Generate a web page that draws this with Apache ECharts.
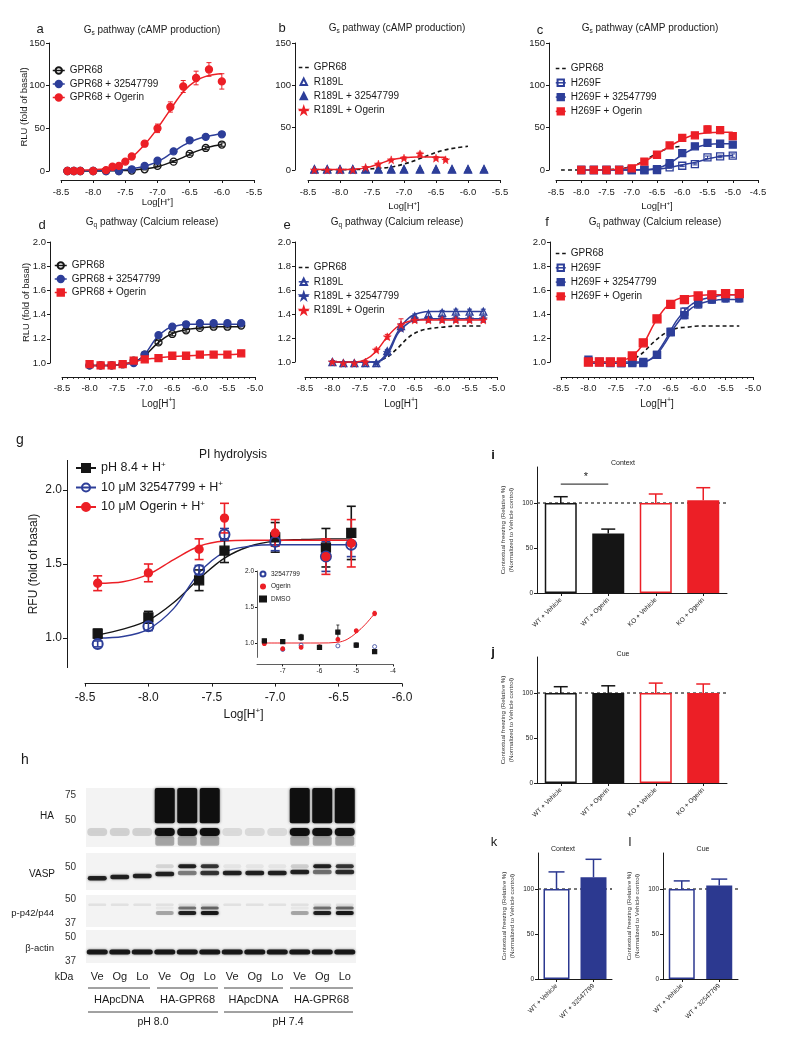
<!DOCTYPE html>
<html>
<head>
<meta charset="utf-8">
<title>GPR68 figure</title>
<script src="https://cdn.jsdelivr.net/npm/echarts@6.0.0/dist/echarts.min.js"></script>
<style>
html,body{margin:0;padding:0;background:#ffffff;}
#chart{width:800px;height:1046px;}
</style>
</head>
<body>
<div id="chart"></div>
<script>
// ================= DATA =================
// ---- a: Gs pathway (cAMP), GPR68
const aX = [-8.4,-8.3,-8.2,-8.0,-7.8,-7.6,-7.4,-7.2,-7.0,-6.75,-6.5,-6.25,-6.0];
const aGPR68 = [0,0,0,0,0,0,0.5,2,6,11,20,27,31];
const aGPR68Err = [0.5,0.5,0.5,0.5,0.5,0.5,0.5,0.8,1,1,1.5,2,2];
const aG325 = [0,0,0,0,0,0,2,6,12,23,36,40,43];
const aG325Err = [0.5,0.5,0.5,0.5,0.5,0.5,0.8,1,1.5,2,2,2,2];
const aOgX = [-8.4,-8.3,-8.2,-8.0,-7.8,-7.7,-7.6,-7.5,-7.4,-7.2,-7.0,-6.8,-6.6,-6.4,-6.2,-6.0];
const aOg = [0,0,0,0,1,5,6,11,17,32,50,75,99,109,119,105];
const aOgErr = [0.5,0.5,0.5,0.5,0.5,1,1,1.5,2,3,5,6,7,8,8,9];
const aFitX = [-8.4,-8.2,-8.0,-7.8,-7.6,-7.4,-7.2,-7.0,-6.8,-6.6,-6.4,-6.2,-6.0];
const aGPR68Fit = [0,0,0,0.2,0.5,1,2.5,5,10,16,23,28,31];
const aG325Fit = [0,0,0.3,0.6,1,2.5,5.5,11,20,30,37,41,44];
const aOgFit = [1,1,1.5,3,7,16,31,50,72,93,106,112,114];

// ---- b: Gs pathway, R189L
const bX = [-8.4,-8.2,-8.0,-7.8,-7.6,-7.4,-7.2,-7.0,-6.75,-6.5,-6.25,-6.0,-5.75];
const bR189L = [0.5,0.5,0.5,0.5,0.5,0.5,0.5,0.5,0.5,0.5,0.5,0.5,0.5];
const bR325 = [1,1,1,1,1,1,1,1,1,1,1,1,1];
const bOgX = [-8.4,-8.2,-8.0,-7.8,-7.6,-7.4,-7.2,-7.0,-6.75,-6.5,-6.35];
const bOg = [0,0,0,0,3,7,12,14,19,14,12];
const bOgErr = [0.5,0.5,0.5,0.5,1,1,1,1.5,2,2,1.5];
const bOgFitX = [-8.4,-8.2,-8.0,-7.8,-7.6,-7.4,-7.2,-7.0,-6.8,-6.6,-6.35];
const bOgFit = [0.5,0.5,0.6,1,2.5,7,12,14.5,15.5,15.5,15];
const bGPRX = [-8.4,-8.0,-7.6,-7.4,-7.2,-7.0,-6.8,-6.6,-6.4,-6.2,-6.0];
const bGPRFit = [0,0.3,1,2,3.5,7,12,18,23,26,28];

// ---- c: Gs pathway, H269F
const cX = [-8.0,-7.75,-7.5,-7.25,-7.0,-6.75,-6.5,-6.25,-6.0,-5.75,-5.5,-5.25,-5.0];
const cH269F = [0,0,0,0,0,0,0,3,5,7,15,16,17];
const cH269FErr = [0.5,0.5,0.5,0.5,0.5,0.5,0.5,1,1,1,1.5,1.5,2];
const cH325 = [0,0,0,0,0,0,1,8,20,28,32,31,30];
const cH325Err = [0.5,0.5,0.5,0.5,0.5,0.5,0.5,1,1.5,2,2,2,2];
const cOg = [0,0,0,0,2,10,18,29,38,41,48,47,40];
const cOgErr = [0.5,0.5,0.5,0.5,1,2,2,3,3,3,4,4,4];
const cOgFit = [0,0,0.3,1,4,10,19,28,36,42,44,44.5,44.5];
const cH325Fit = [0,0,0,0,0,0.5,2,8,18,26,30,31,31];
const cH269FFit = [0,0,0,0,0,0,1,3,6,9,13,16,17];
const cGPRX = [-8.4,-8.0,-7.5,-7.25,-7.0,-6.75,-6.5,-6.25,-6.0];
const cGPRFit = [0,0,0.5,1.5,4,11,20,26,28];

// ---- d: Gq pathway (Calcium), GPR68
const dX = [-8.0,-7.8,-7.6,-7.4,-7.2,-7.0,-6.75,-6.5,-6.25,-6.0,-5.75,-5.5,-5.25];
const dGPR68 = [0.98,0.98,0.98,0.99,1.02,1.07,1.17,1.24,1.27,1.29,1.30,1.30,1.31];
const dG325 = [0.98,0.98,0.98,0.99,1.00,1.07,1.23,1.30,1.32,1.33,1.33,1.33,1.33];
const dOg = [0.99,0.98,0.98,0.99,1.02,1.03,1.04,1.06,1.06,1.07,1.07,1.07,1.08];
const dErr = [0.01,0.01,0.01,0.01,0.01,0.01,0.015,0.015,0.015,0.01,0.01,0.01,0.01];
const dFitX = [-8.0,-7.6,-7.4,-7.2,-7.0,-6.8,-6.6,-6.4,-6.2,-6.0,-5.75,-5.5,-5.25];
const dGPR68Fit = [0.98,0.98,0.99,1.01,1.06,1.15,1.22,1.26,1.28,1.29,1.30,1.30,1.30];
const dG325Fit = [0.98,0.98,0.99,1.00,1.07,1.20,1.28,1.31,1.32,1.32,1.32,1.32,1.32];
const dOgFit = [0.98,0.98,0.99,1.01,1.03,1.04,1.05,1.055,1.06,1.065,1.07,1.07,1.075];

// ---- e: Gq pathway, R189L
const eX = [-8.0,-7.8,-7.6,-7.4,-7.2,-7.0,-6.75,-6.5,-6.25,-6.0,-5.75,-5.5,-5.25];
const eR189L = [1.0,0.99,0.99,0.99,0.99,1.09,1.30,1.38,1.40,1.41,1.42,1.42,1.42];
const eR325 = [1.0,0.99,0.99,0.99,0.99,1.08,1.28,1.36,1.36,1.36,1.36,1.36,1.36];
const eOg = [1.0,0.99,0.99,1.0,1.10,1.21,1.31,1.35,1.35,1.35,1.35,1.35,1.35];
const eOgErr = [0.01,0.01,0.01,0.01,0.015,0.02,0.05,0.02,0.02,0.02,0.02,0.02,0.02];
const eErr = [0.01,0.01,0.01,0.01,0.01,0.015,0.02,0.02,0.02,0.02,0.02,0.02,0.02];
const eFitX = [-8.0,-7.6,-7.4,-7.2,-7.0,-6.8,-6.6,-6.4,-6.2,-6.0,-5.75,-5.5,-5.25];
const eR189LFit = [1.0,1.0,1.0,1.0,1.08,1.26,1.37,1.41,1.42,1.42,1.42,1.42,1.42];
const eR325Fit = [1.0,1.0,1.0,1.0,1.06,1.24,1.33,1.355,1.36,1.36,1.36,1.36,1.36];
const eOgFit = [1.0,1.0,1.02,1.09,1.21,1.30,1.34,1.35,1.35,1.35,1.35,1.35,1.35];
const eGPRX = [-7.1,-7.0,-6.8,-6.6,-6.4,-6.2,-6.0,-5.75,-5.5,-5.25];
const eGPRFit = [1.02,1.04,1.12,1.21,1.26,1.28,1.29,1.30,1.30,1.30];

// ---- f: Gq pathway, H269F
const fX = [-8.0,-7.8,-7.6,-7.4,-7.2,-7.0,-6.75,-6.5,-6.25,-6.0,-5.75,-5.5,-5.25];
const fOg = [1.0,1.0,1.0,1.0,1.05,1.16,1.36,1.48,1.52,1.55,1.56,1.57,1.57];
const fH325 = [1.02,1.0,0.99,0.99,0.99,0.99,1.06,1.25,1.39,1.49,1.52,1.53,1.53];
const fH269F = [1.0,1.0,1.0,0.99,1.0,1.0,1.06,1.25,1.42,1.48,1.55,1.56,1.57];
const fErr = [0.02,0.015,0.015,0.015,0.015,0.02,0.02,0.03,0.03,0.03,0.03,0.03,0.03];
const fFitX = [-8.0,-7.6,-7.4,-7.2,-7.0,-6.8,-6.6,-6.4,-6.2,-6.0,-5.75,-5.5,-5.25];
const fOgFit = [1.0,1.0,1.01,1.05,1.15,1.32,1.45,1.52,1.545,1.555,1.56,1.56,1.56];
const fH325Fit = [0.99,0.99,0.99,0.99,1.0,1.04,1.16,1.31,1.42,1.48,1.51,1.52,1.52];
const fH269FFit = [1.0,1.0,1.0,1.0,1.0,1.05,1.18,1.34,1.45,1.51,1.54,1.56,1.56];
const fGPRX = [-7.15,-7.0,-6.8,-6.6,-6.4,-6.2,-6.0,-5.75,-5.5,-5.25];
const fGPRFit = [1.03,1.08,1.17,1.24,1.28,1.29,1.30,1.30,1.30,1.30];

// ---- g: PI hydrolysis
const gX = [-8.4,-8.0,-7.6,-7.4,-7.0,-6.6,-6.4];
const gPH = [1.03,1.14,1.39,1.59,1.68,1.61,1.71];
const gPHErr = [0.03,0.04,0.07,0.08,0.1,0.13,0.18];
const g325 = [0.96,1.08,1.46,1.70,1.65,1.55,1.63];
const g325Err = [0.02,0.03,0.03,0.04,0.06,0.1,0.08];
const gOg = [1.37,1.44,1.60,1.81,1.71,1.55,1.64];
const gOgErr = [0.05,0.06,0.07,0.1,0.09,0.12,0.16];
const gFitX = [-8.4,-8.2,-8.0,-7.8,-7.6,-7.4,-7.2,-7.0,-6.8,-6.6,-6.4];
const gPHFit = [1.02,1.06,1.12,1.24,1.40,1.54,1.62,1.655,1.665,1.67,1.67];
const g325Fit = [1.0,1.01,1.06,1.20,1.44,1.58,1.62,1.63,1.63,1.63,1.63];
const gOgFit = [1.37,1.38,1.43,1.53,1.62,1.655,1.66,1.66,1.66,1.66,1.66];
// inset
const insX = [-7.5,-7.0,-6.5,-6.0,-5.5,-5.0,-4.5];
const insDMSO = [1.03,1.02,1.08,0.94,1.15,0.97,0.88];
const insDMSOErr = [0.02,0.02,0.04,0.01,0.1,0.03,0.01];
const ins325 = [1.02,0.91,0.97,0.94,0.96,0.97,0.95];
const insOg = [0.99,0.92,0.94,0.95,1.05,1.17,1.41];
const insOgErr = [0.01,0.02,0.02,0.01,0.02,0.01,0.03];
const insOgFitX = [-7.5,-7.0,-6.5,-6.0,-5.5,-5.25,-5.0,-4.75,-4.5];
const insOgFit = [1.0,1.0,1.0,1.0,1.01,1.05,1.14,1.26,1.41];

// ---- h: western blot (band apparent kDa and relative intensity per lane)
const laneLabels = ['Ve','Og','Lo','Ve','Og','Lo','Ve','Og','Lo','Ve','Og','Lo'];
const groupLabels = ['HApcDNA','HA-GPR68','HApcDNA','HA-GPR68'];
const phLabels = ['pH 8.0','pH 7.4'];
const haBlobKDa = [84, 47.6];
const haBlob = [0,0,0,0.95,0.95,0.95,0,0,0,0.95,0.95,0.95];
const haBandKDa = 41.2;
const haBand = [0.14,0.14,0.14,0.95,0.95,0.95,0.1,0.1,0.1,0.95,0.95,0.95];
const haSmearKDa = [38.6, 33];
const haSmear = [0,0,0,0.3,0.3,0.3,0,0,0,0.3,0.3,0.3];
const vaspLowKDa = [41.7,42.4,43.1,44.6,45.3,45.3,45.3,45.3,45.3,46.0,46.0,46.0];
const vaspLow = [0.85,0.85,0.85,0.85,0.45,0.75,0.85,0.85,0.85,0.85,0.5,0.8];
const vaspUpKDa = 50.5;
const vaspUp = [0,0,0,0.12,0.85,0.75,0.06,0.06,0.06,0.15,0.85,0.75];
const erkLowKDa = 41.9;
const erkLow = [0,0,0,0.3,0.85,0.9,0,0,0,0.3,0.85,0.9];
const erkUpKDa = 44.7;
const erkUp = [0,0,0,0.05,0.5,0.55,0,0,0,0.05,0.5,0.55];
const erkFaintKDa = 46.5;
const erkFaint = [0.08,0.08,0.08,0.08,0.08,0.08,0.08,0.08,0.08,0.08,0.08,0.08];
const actinKDa = 41.5;
const actin = [0.9,0.9,0.9,0.9,0.9,0.9,0.9,0.9,0.9,0.9,0.9,0.9];

// ---- i-l: fear conditioning
const catsIJ = ['WT + Vehicle','WT + Ogerin','KO + Vehicle','KO + Ogerin'];
const ctxVal = [100,66,100,103];
const ctxErr = [7,5,10,14];
const cueVal = [100,100,100,100];
const cueErr = [7,8,11,10];
const catsKL = ['WT + Vehicle','WT + 32547799'];
const kVal = [100,113];
const kErr = [19,20];
const lVal = [100,104];
const lErr = [9,7];
const sigY = 121;

// ================= BUILD =================
const F = '"Liberation Sans", Arial, Helvetica, sans-serif';
const RED = '#ec1f26', BLUE = '#2d3e99', BLK = '#151515', NAVY = '#2c3990', TXT = '#1a1a1a';
const NONE = 'rgba(255,255,255,0)';
const STAR = 'path://M50,0L61.8,35.3L99,35.3L68.9,57.1L80.4,92.7L50,70.6L19.6,92.7L31.1,57.1L1,35.3L38.2,35.3Z';
const DASH_ICON = 'path://M0,0h0.01v0.01h-0.01zM0,3.2h3.6v1.6h-3.6zM6.4,3.2h3.6v1.6h-3.6zM9.99,7.99h0.01v0.01h-0.01z';
const grids = [], xAxes = [], yAxes = [], series = [], legends = [], gfx = [];
const LOGH = '{a|Log[H}{b|+}{a|]}';
function richLog(fs){
  return {a:{fontSize:fs, fontFamily:F, color:TXT, lineHeight:fs+4},
          b:{fontSize:Math.round(fs*0.65), fontFamily:F, color:TXT, lineHeight:Math.round(fs*0.65)+1, verticalAlign:'top'}};
}
const AX = {color:TXT, width:1};

function curvePanel(p){
  const gi = grids.length;
  grids.push({left:p.left, top:p.top, width:p.width, height:p.height, outerBoundsMode:'none', containLabel:false});
  const xi = xAxes.length, yi = yAxes.length;
  const xa = {gridIndex:gi, type:'value', min:p.xmin, max:p.xmax, offset:p.xOff,
    axisLine:{show:true, onZero:false, lineStyle:AX},
    axisTick:{show:true, length:3, lineStyle:AX},
    minorTick:{show:!!p.minor, splitNumber:5, length:2, lineStyle:{color:TXT, width:0.8}},
    axisLabel:{fontSize:p.fs, fontFamily:F, color:TXT, margin:p.xm||5, formatter:v=>v.toFixed(1)},
    splitLine:{show:false}, minorSplitLine:{show:false}};
  if (p.xCustom) { xa.axisLabel.customValues = p.xCustom; xa.axisTick.customValues = p.xCustom; }
  else xa.interval = p.xint || 0.5;
  if (p.xName !== false) {
    xa.name = LOGH; xa.nameLocation = 'middle'; xa.nameGap = p.nameGap; xa.nameMoveOverlap = false;
    xa.nameTextStyle = {rich: richLog(p.nfs)};
  }
  xAxes.push(xa);
  const ya = {gridIndex:gi, type:'value', min:p.ymin, max:p.ymax, offset:p.yOff,
    axisLine:{show:true, onZero:false, lineStyle:AX},
    axisTick:{show:true, length:p.ytl||3, lineStyle:AX},
    axisLabel:{fontSize:p.fs, fontFamily:F, color:TXT, margin:p.ym||4, formatter:p.yfmt||(v=>String(v))},
    splitLine:{show:false}};
  if (p.yCustom) { ya.axisLabel.customValues = p.yCustom; ya.axisTick.customValues = p.yCustom; }
  else ya.interval = p.yint;
  if (p.yName) {
    ya.name = p.yName; ya.nameLocation = 'middle'; ya.nameGap = p.yNameGap; ya.nameMoveOverlap = false;
    ya.nameTextStyle = {fontSize:p.yNameFs||p.fs, fontFamily:F, color:TXT};
  }
  yAxes.push(ya);
  return {xi, yi};
}

function errBar(color, cap, w){
  return function(params, api){
    const x = api.value(0), y = api.value(1), e = api.value(2);
    const p1 = api.coord([x, y - e]), p2 = api.coord([x, y + e]);
    const st = {stroke:color, lineWidth:w};
    return {type:'group', children:[
      {type:'line', shape:{x1:p1[0], y1:p1[1], x2:p2[0], y2:p2[1]}, style:st},
      {type:'line', shape:{x1:p1[0]-cap, y1:p1[1], x2:p1[0]+cap, y2:p1[1]}, style:st},
      {type:'line', shape:{x1:p2[0]-cap, y1:p2[1], x2:p2[0]+cap, y2:p2[1]}, style:st}
    ]};
  };
}

function addPts(ax, name, xs, ys, errs, o){
  if (errs) series.push({type:'custom', xAxisIndex:ax.xi, yAxisIndex:ax.yi, silent:true, z:3, clip:false,
    data: xs.map((x,i)=>[x, ys[i], errs[i]]), renderItem: errBar(o.color, o.cap||2.5, o.ew||1)});
  series.push({type:o.scatter?'scatter':'line', name:name, xAxisIndex:ax.xi, yAxisIndex:ax.yi, z:4, clip:false, silent:true,
    data: xs.map((x,i)=>[x, ys[i]]), symbol:o.symbol, symbolSize:o.size, showSymbol:true, showAllSymbol:true,
    lineStyle:{width:0, opacity:0, color:o.color},
    itemStyle:{color:o.fill, borderColor:o.color, borderWidth:o.bw||1.3, opacity:1},
    emphasis:{disabled:true}});
}
function addCurve(ax, xs, ys, color, o){
  o = o || {};
  series.push({type:'line', name:o.name, xAxisIndex:ax.xi, yAxisIndex:ax.yi, z:2, clip:false, silent:true,
    data: xs.map((x,i)=>[x, ys[i]]), symbol:'none', smooth:0.35,
    lineStyle:{color:color, width:o.w||1.5, type:o.dash?[4,3]:'solid'}, itemStyle:{color:color},
    emphasis:{disabled:true}});
}
function addLegend(data, left, top, o){
  legends.push({show:true, orient:'vertical', left:left, top:top, data:data, padding:0,
    itemWidth:o.iw, itemHeight:o.ih, itemGap:o.gap, selectedMode:false,
    textStyle:{fontSize:o.fs, fontFamily:F, color:TXT, lineHeight:o.lh, rich:o.rich},
    formatter: o.fmt || (n=>n.split('::')[1]),
    lineStyle:{width:o.lw||1.5, opacity:1}, itemStyle:{opacity:1}});
}
function text(x, y, s, fs, o){
  o = o || {};
  gfx.push({type:'text', x:x, y:y, silent:true, z:10,
    style:{text:s, fontSize:fs, fontFamily:F, fill:o.fill||TXT, fontWeight:o.bold?'bold':'normal',
      align:o.align||'center', textAlign:o.align||'center', verticalAlign:'middle', textVerticalAlign:'middle', rich:o.rich}});
}
function hline(x1, x2, y){
  gfx.push({type:'line', silent:true, shape:{x1:x1, y1:y, x2:x2, y2:y}, style:{stroke:'#444', lineWidth:1}});
}
const LEG = {iw:12, ih:8, gap:3.5, fs:10, lh:9};
const LEGD = {iw:10, ih:8, gap:4.3, fs:10, lh:9};
const noLine = {opacity:0, width:0};

// ---- Titles helpers
function gTitle(x, y, sub, rest){
  text(x, y, '{m|G}{s|' + sub + '}{m| ' + rest + '}', 10, {rich:{
    m:{fontSize:10, fontFamily:F, fill:TXT, color:TXT, lineHeight:13},
    s:{fontSize:6.5, fontFamily:F, fill:TXT, color:TXT, lineHeight:8, verticalAlign:'bottom'}}});
}

// ================= PANEL a =================
let A = curvePanel({left:61, top:43, width:193, height:128, xmin:-8.5, xmax:-5.5, xint:0.5, ymin:0, ymax:150, yint:50,
  yOff:12, xOff:9, fs:9.5, nfs:9.5, nameGap:16, yName:'RLU (fold of basal)', yNameGap:20, yNameFs:9.5, xm:7});
addCurve(A, aFitX, aGPR68Fit, BLK);
addCurve(A, aFitX, aG325Fit, BLUE);
addCurve(A, aFitX, aOgFit, RED);
addPts(A, 'a::GPR68', aX, aGPR68, aGPR68Err, {symbol:'circle', size:7, color:BLK, fill:NONE});
addPts(A, 'a::GPR68 + 32547799', aX, aG325, aG325Err, {symbol:'circle', size:7, color:BLUE, fill:BLUE});
addPts(A, 'a::GPR68 + Ogerin', aOgX, aOg, aOgErr, {symbol:'circle', size:7, color:RED, fill:RED});
addLegend(['a::GPR68','a::GPR68 + 32547799','a::GPR68 + Ogerin'], 52, 65.5, LEG);
text(40, 29, 'a', 13);
gTitle(152, 30, 's', 'pathway (cAMP production)');

// ================= PANEL b =================
let B = curvePanel({left:308, top:43, width:192, height:127, xmin:-8.5, xmax:-5.5, xint:0.5, ymin:0, ymax:150, yint:50,
  yOff:13, xOff:10, fs:9.5, nfs:9.5, nameGap:20, xm:7});
addCurve(B, bGPRX, bGPRFit, BLK, {name:'b::GPR68', dash:true, w:1.6});
addCurve(B, bOgFitX, bOgFit, RED);
addPts(B, 'b::R189L', bX, bR189L, null, {symbol:'triangle', size:7, color:BLUE, fill:NONE});
addPts(B, 'b::R189L + 32547799', bX, bR325, null, {symbol:'triangle', size:7, color:BLUE, fill:BLUE});
addPts(B, 'b::R189L + Ogerin', bOgX, bOg, bOgErr, {symbol:STAR, size:8, color:RED, fill:RED, bw:0.5});
addLegend([{name:'b::GPR68', icon:DASH_ICON},{name:'b::R189L', lineStyle:noLine},{name:'b::R189L + 32547799', lineStyle:noLine},'b::R189L + Ogerin'], 298, 62.5, LEGD);
text(282, 28, 'b', 13);
gTitle(397, 28, 's', 'pathway (cAMP production)');

// ================= PANEL c =================
let C = curvePanel({left:556, top:43, width:202, height:127, xmin:-8.5, xmax:-4.5, xint:0.5, ymin:0, ymax:150, yint:50,
  yOff:7, xOff:10, fs:9.5, nfs:9.5, nameGap:20, xm:7});
addCurve(C, cGPRX, cGPRFit, BLK, {name:'c::GPR68', dash:true, w:1.6});
addCurve(C, cX, cH269FFit, BLUE);
addCurve(C, cX, cH325Fit, BLUE);
addCurve(C, cX, cOgFit, RED);
addPts(C, 'c::H269F', cX, cH269F, cH269FErr, {symbol:'rect', size:7, color:BLUE, fill:NONE});
addPts(C, 'c::H269F + 32547799', cX, cH325, cH325Err, {symbol:'rect', size:7, color:BLUE, fill:BLUE});
addPts(C, 'c::H269F + Ogerin', cX, cOg, cOgErr, {symbol:'rect', size:7, color:RED, fill:RED});
addLegend([{name:'c::GPR68', icon:DASH_ICON},'c::H269F','c::H269F + 32547799','c::H269F + Ogerin'], 555, 63.5, LEGD);
text(540, 30, 'c', 13);
gTitle(650, 28, 's', 'pathway (cAMP production)');

// ================= PANEL d =================
const f1 = v=>v.toFixed(1);
let D = curvePanel({left:62, top:242, width:193, height:121, xmin:-8.5, xmax:-5.0, xint:0.5, ymin:1.0, ymax:2.0, yint:0.2,
  yOff:12, xOff:14, fs:9.5, nfs:10, nameGap:20, xm:6, minor:true, yfmt:f1, yName:'RLU (fold of basal)', yNameGap:19, yNameFs:9.5});
addCurve(D, dFitX, dGPR68Fit, BLK);
addCurve(D, dFitX, dG325Fit, BLUE);
addCurve(D, dFitX, dOgFit, RED);
addPts(D, 'd::GPR68', dX, dGPR68, dErr, {symbol:'circle', size:7, color:BLK, fill:NONE});
addPts(D, 'd::GPR68 + 32547799', dX, dG325, dErr, {symbol:'circle', size:7, color:BLUE, fill:BLUE});
addPts(D, 'd::GPR68 + Ogerin', dX, dOg, dErr, {symbol:'rect', size:7, color:RED, fill:RED});
addLegend(['d::GPR68','d::GPR68 + 32547799','d::GPR68 + Ogerin'], 54, 260.5, LEG);
text(42, 225, 'd', 13);
gTitle(152, 222, 'q', 'pathway (Calcium release)');

// ================= PANEL e =================
let E = curvePanel({left:305, top:242, width:192, height:120, xmin:-8.5, xmax:-5.0, xint:0.5, ymin:1.0, ymax:2.0, yint:0.2,
  yOff:10, xOff:15, fs:9.5, nfs:10, nameGap:20, xm:6, minor:true, yfmt:f1});
addCurve(E, eGPRX, eGPRFit, BLK, {name:'e::GPR68', dash:true, w:1.6});
addCurve(E, eFitX, eR189LFit, BLUE);
addCurve(E, eFitX, eR325Fit, BLUE);
addCurve(E, eFitX, eOgFit, RED);
addPts(E, 'e::R189L', eX, eR189L, eErr, {symbol:'triangle', size:7, color:BLUE, fill:NONE});
addPts(E, 'e::R189L + 32547799', eX, eR325, eErr, {symbol:STAR, size:8, color:BLUE, fill:BLUE, bw:0.5});
addPts(E, 'e::R189L + Ogerin', eX, eOg, eOgErr, {symbol:STAR, size:8, color:RED, fill:RED, bw:0.5});
addLegend([{name:'e::GPR68', icon:DASH_ICON},'e::R189L','e::R189L + 32547799','e::R189L + Ogerin'], 298, 262.5, LEGD);
text(287, 225, 'e', 13);
gTitle(397, 222, 'q', 'pathway (Calcium release)');

// ================= PANEL f =================
let Fp = curvePanel({left:561, top:242, width:192, height:120, xmin:-8.5, xmax:-5.0, xint:0.5, ymin:1.0, ymax:2.0, yint:0.2,
  yOff:11, xOff:15, fs:9.5, nfs:10, nameGap:20, xm:6, minor:true, yfmt:f1});
addCurve(Fp, fGPRX, fGPRFit, BLK, {name:'f::GPR68', dash:true, w:1.6});
addCurve(Fp, fFitX, fH269FFit, BLUE);
addCurve(Fp, fFitX, fH325Fit, BLUE);
addCurve(Fp, fFitX, fOgFit, RED);
addPts(Fp, 'f::H269F', fX, fH269F, fErr, {symbol:'rect', size:7, color:BLUE, fill:NONE});
addPts(Fp, 'f::H269F + 32547799', fX, fH325, fErr, {symbol:'rect', size:7, color:BLUE, fill:BLUE});
addPts(Fp, 'f::H269F + Ogerin', fX, fOg, fErr, {symbol:'rect', size:8, color:RED, fill:RED});
addLegend([{name:'f::GPR68', icon:DASH_ICON},'f::H269F','f::H269F + 32547799','f::H269F + Ogerin'], 555, 248.5, LEGD);
text(547, 222, 'f', 13);
gTitle(655, 222, 'q', 'pathway (Calcium release)');

// ================= PANEL g =================
let G = curvePanel({left:85, top:460.4, width:317, height:207.2, xmin:-8.5, xmax:-6.0, xint:0.5, ymin:0.8, ymax:2.2,
  yCustom:[1.0,1.5,2.0], yOff:18, xOff:16, fs:12, nfs:12, nameGap:23, xm:8, ym:5, ytl:4, yfmt:f1,
  yName:'RFU (fold of basal)', yNameGap:27, yNameFs:12});
addCurve(G, gFitX, gPHFit, BLK, {w:1.4});
addCurve(G, gFitX, g325Fit, BLUE, {w:1.4});
addCurve(G, gFitX, gOgFit, RED, {w:1.4});
addPts(G, 'g::ph', gX, gPH, gPHErr, {symbol:'rect', size:9, color:BLK, fill:BLK, cap:4.5, ew:1.6});
addPts(G, 'g::325', gX, g325, g325Err, {symbol:'circle', size:10, color:BLUE, fill:NONE, bw:2, cap:4.5, ew:1.6});
addPts(G, 'g::og', gX, gOg, gOgErr, {symbol:'circle', size:8, color:RED, fill:RED, cap:4.5, ew:1.6});
const gNames = {'g::ph':'{a|pH 8.4 + H}{b|+}', 'g::325':'{a|10 \u03bcM 32547799 + H}{b|+}', 'g::og':'{a|10 \u03bcM Ogerin + H}{b|+}'};
addLegend(['g::ph','g::325','g::og'], 75, 460.5, {iw:20, ih:10, gap:4.5, fs:12.5, lh:15, lw:2,
  fmt:n=>gNames[n], rich:{a:{fontSize:12.5, fontFamily:F, color:TXT, lineHeight:15}, b:{fontSize:8, fontFamily:F, color:TXT, lineHeight:9, verticalAlign:'top'}}});
text(20, 440, 'g', 14);
text(233, 455, 'PI hydrolysis', 12);
// inset
let GI = curvePanel({left:257, top:571, width:136, height:86.4, xmin:-7.7, xmax:-4.0, xCustom:[-7,-6,-5,-4],
  ymin:0.8, ymax:2.0, yCustom:[1.0,1.5,2.0], yOff:0, xOff:7, fs:6.5, xm:3, ym:3, yfmt:f1, xName:false});
xAxes[GI.xi].axisLabel.formatter = v=>String(v);
xAxes[GI.xi].axisTick.length = 2; yAxes[GI.yi].axisTick.length = 2;
xAxes[GI.xi].axisLine.lineStyle = {color:TXT, width:0.7}; yAxes[GI.yi].axisLine.lineStyle = {color:TXT, width:0.7};
addCurve(GI, insOgFitX, insOgFit, RED, {w:1});
addPts(GI, 'gi::32547799', insX, ins325, null, {symbol:'circle', size:4, color:BLUE, fill:NONE, bw:0.8, scatter:true});
addPts(GI, 'gi::Ogerin', insX, insOg, insOgErr, {symbol:'circle', size:3.5, color:RED, fill:RED, cap:1.5, ew:0.8});
addPts(GI, 'gi::DMSO', insX, insDMSO, insDMSOErr, {symbol:'rect', size:4, color:BLK, fill:BLK, cap:1.5, ew:0.8, scatter:true});
addLegend(['gi::32547799','gi::Ogerin','gi::DMSO'], 259, 570.5, {iw:6, ih:5, gap:5.5, fs:6.5, lh:6, lw:1});

// ================= PANEL h (western blot) =================
function bandRender(h, w){
  return function(params, api){
    const a = api.value(2);
    if (!a) return null;
    const c = api.coord([api.value(0), api.value(1)]);
    return {type:'rect', shape:{x:c[0]-w/2, y:c[1]-h/2, width:w, height:h, r:h/2},
      style:{fill:'rgba(12,12,12,' + a + ')', shadowBlur:2.5, shadowColor:'rgba(0,0,0,' + (a*0.7) + ')'}};
  };
}
function blobRender(w){
  return function(params, api){
    const a = api.value(3);
    if (!a) return null;
    const t = api.coord([api.value(0), api.value(1)]), b = api.coord([api.value(0), api.value(2)]);
    return {type:'rect', shape:{x:t[0]-w/2, y:t[1], width:w, height:Math.max(1, b[1]-t[1]), r:2},
      style:{fill:'rgba(10,10,10,' + a + ')', shadowBlur:3, shadowColor:'rgba(0,0,0,' + (a*0.6) + ')'}};
  };
}
function blotStrip(top, height, kMin, kMax, marks, showLanes){
  const gi = grids.length;
  grids.push({left:86, top:top, width:270, height:height, outerBoundsMode:'none', show:true, backgroundColor:'#f3f3f3', borderWidth:0});
  const xi = xAxes.length, yi = yAxes.length;
  xAxes.push({gridIndex:gi, type:'category', data:laneLabels, axisLine:{show:false}, axisTick:{show:false},
    axisLabel:{show:showLanes, fontSize:11, fontFamily:F, color:TXT, margin:8, interval:0}, splitLine:{show:false}});
  yAxes.push({gridIndex:gi, type:'log', min:kMin, max:kMax, axisLine:{show:false}, axisTick:{show:false},
    axisLabel:{fontSize:10, fontFamily:F, color:'#333', margin:10, customValues:marks}, splitLine:{show:false}, minorSplitLine:{show:false}});
  return {xi, yi};
}
function laneBands(ax, kDa, ints, h, w){
  series.push({type:'custom', xAxisIndex:ax.xi, yAxisIndex:ax.yi, silent:true, z:3, clip:false,
    data: ints.map((v,i)=>[i, Array.isArray(kDa) ? kDa[i] : kDa, v]), renderItem: bandRender(h, w)});
}
function laneBlob(ax, range, ints, w){
  series.push({type:'custom', xAxisIndex:ax.xi, yAxisIndex:ax.yi, silent:true, z:3, clip:false,
    data: ints.map((v,i)=>[i, range[0], range[1], v]), renderItem: blobRender(w)});
}
const HA = blotStrip(788, 59, 32.4, 84, [75, 50], false);
laneBlob(HA, haBlobKDa, haBlob, 20);
laneBands(HA, haBandKDa, haBand, 8, 20);
laneBlob(HA, haSmearKDa, haSmear, 19);
const VA = blotStrip(853, 37, 34.4, 62.7, [50], false);
laneBands(VA, vaspLowKDa, vaspLow, 4.5, 19);
laneBands(VA, vaspUpKDa, vaspUp, 4, 18);
const ER = blotStrip(895, 32, 35.2, 52.6, [50, 37], false);
laneBands(ER, erkFaintKDa, erkFaint, 2.5, 18);
laneBands(ER, erkUpKDa, erkUp, 3, 18);
laneBands(ER, erkLowKDa, erkLow, 4, 18);
const AC = blotStrip(930, 33, 36.1, 54.6, [50, 37], true);
laneBands(AC, actinKDa, actin, 5, 21);

text(25, 760, 'h', 14);
text(54, 816, 'HA', 10, {align:'right'});
text(55, 874, 'VASP', 10, {align:'right'});
text(54, 913, 'p-p42/p44', 9.5, {align:'right'});
text(54, 948, '\u03b2-actin', 9.5, {align:'right'});
text(64, 977, 'kDa', 10.5);
hline(88, 150, 988); hline(157, 218, 988); hline(224, 283, 988); hline(290, 353, 988);
text(119, 1000, groupLabels[0], 11); text(187.5, 1000, groupLabels[1], 11);
text(253.5, 1000, groupLabels[2], 11); text(321.5, 1000, groupLabels[3], 11);
hline(88, 218, 1012); hline(224, 353, 1012);
text(153, 1022, phLabels[0], 10.5); text(288, 1022, phLabels[1], 10.5);

// ================= PANELS i-l (bar charts) =================
const FREEZE = 'Contextual freezing (Relative %)\n(Normalized to Vehicle control)';
function upErr(strokes, cap){
  return function(params, api){
    const i = params.dataIndex, v = api.value(1), e = api.value(2);
    const p1 = api.coord([api.value(0), v]), p2 = api.coord([api.value(0), v + e]);
    const st = {stroke:strokes[i], lineWidth:1.5};
    return {type:'group', children:[
      {type:'line', shape:{x1:p1[0], y1:p1[1], x2:p2[0], y2:p2[1]}, style:st},
      {type:'line', shape:{x1:p2[0]-cap, y1:p2[1], x2:p2[0]+cap, y2:p2[1]}, style:st}]};
  };
}
function barPanel(p, cats, vals, errs, fills, strokes){
  const gi = grids.length;
  grids.push({left:p.left, top:p.top, width:p.width, height:p.height, outerBoundsMode:'none'});
  const xi = xAxes.length, yi = yAxes.length;
  xAxes.push({gridIndex:gi, type:'category', data:cats,
    axisLine:{show:true, onZero:false, lineStyle:AX}, axisTick:{show:true, alignWithLabel:true, length:3, lineStyle:AX},
    axisLabel:{rotate:45, fontSize:6.5, fontFamily:F, color:TXT, margin:6, interval:0}, splitLine:{show:false}});
  xAxes.push({gridIndex:gi, type:'value', min:0, max:1, show:false});
  yAxes.push({gridIndex:gi, type:'value', min:0, max:140, interval:50,
    axisLine:{show:true, onZero:false, lineStyle:AX}, axisTick:{show:true, length:3, lineStyle:AX},
    axisLabel:{fontSize:6.5, fontFamily:F, color:TXT, margin:4, showMaxLabel:false}, splitLine:{show:false},
    name:FREEZE, nameLocation:'middle', nameGap:p.nameGap, nameMoveOverlap:false,
    nameTextStyle:{fontSize:6.2, lineHeight:8, fontFamily:F, color:'#333'}});
  series.push({type:'line', xAxisIndex:xi+1, yAxisIndex:yi, data:[[0,100],[1,100]], symbol:'none', silent:true, z:1,
    lineStyle:{color:'#333', width:1.3, type:[3,3]}});
  series.push({type:'bar', xAxisIndex:xi, yAxisIndex:yi, barWidth:p.bw, z:2, silent:true,
    data: vals.map((v,i)=>({value:v, itemStyle:{color:fills[i], borderColor:strokes[i], borderWidth:1.5}}))});
  series.push({type:'custom', xAxisIndex:xi, yAxisIndex:yi, z:3, silent:true, clip:false,
    data: vals.map((v,i)=>[i, v, errs[i]]), renderItem: upErr(strokes, p.cap)});
  return {xi, yi};
}
const fillsIJ = ['#ffffff', BLK, '#ffffff', RED], strokesIJ = [BLK, BLK, RED, RED];
const fillsKL = ['#ffffff', NAVY], strokesKL = [NAVY, NAVY];
const I = barPanel({left:537, top:467, width:190, height:126, bw:32, cap:7, nameGap:22}, catsIJ, ctxVal, ctxErr, fillsIJ, strokesIJ);
series.push({type:'line', xAxisIndex:I.xi, yAxisIndex:I.yi, data:[[0,sigY],[1,sigY]], symbol:'none', silent:true, z:3,
  lineStyle:{color:BLK, width:1}});
text(586, 477, '*', 11);
text(493, 455, 'i', 13, {bold:true});
text(623, 463, 'Context', 7);
barPanel({left:537, top:657, width:190, height:126, bw:32, cap:7, nameGap:22}, catsIJ, cueVal, cueErr, fillsIJ, strokesIJ);
text(493, 652, 'j', 13, {bold:true});
text(623, 654, 'Cue', 7);
barPanel({left:538, top:853, width:74, height:126, bw:26, cap:8, nameGap:22}, catsKL, kVal, kErr, fillsKL, strokesKL);
text(494, 842, 'k', 13);
text(563, 849, 'Context', 7);
barPanel({left:663, top:853, width:75, height:126, bw:26, cap:8, nameGap:22}, catsKL, lVal, lErr, fillsKL, strokesKL);
text(630, 842, 'l', 13);
text(703, 849, 'Cue', 7);

// ================= RENDER =================
const chart = echarts.init(document.getElementById('chart'), null, {renderer:'canvas'});
chart.setOption({
  animation:false,
  backgroundColor:'#ffffff',
  textStyle:{fontFamily:F},
  tooltip:{show:false},
  grid:grids, xAxis:xAxes, yAxis:yAxes, series:series, legend:legends,
  graphic:{elements:gfx}
});
</script>
</body>
</html>
